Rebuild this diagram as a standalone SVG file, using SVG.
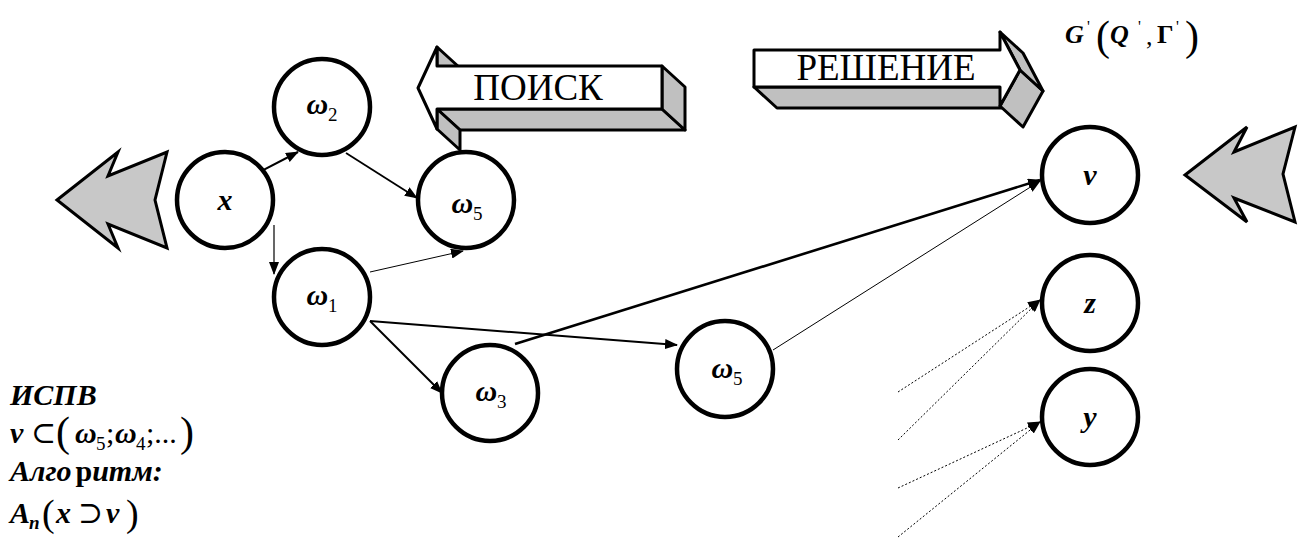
<svg xmlns="http://www.w3.org/2000/svg" width="1304" height="540" viewBox="0 0 1304 540">
<defs>
<style>
.node{fill:#fff;stroke:#000;stroke-width:4.5}
.lbl{font-size:30px;font-weight:bold;font-style:italic}
.sub{font-size:19px;font-weight:normal;font-style:normal}
.rm{font-weight:normal;font-style:normal}
.e{fill:none;stroke:#000}
.side{fill:#c0c0c0;stroke:#000;stroke-width:3;stroke-linejoin:round}
.front{fill:#fff;stroke:#000;stroke-width:3;stroke-linejoin:round}
.chev{fill:#c8c8c8;stroke:#000;stroke-width:3;stroke-linejoin:miter}
.big{font-size:37px}
</style>
<marker id="ah" markerUnits="userSpaceOnUse" markerWidth="13" markerHeight="10" refX="12" refY="5" orient="auto"><path d="M0,0 L13,5 L0,10 Z" fill="#000"/></marker>
</defs>
<rect width="1304" height="540" fill="#fff"/>
<g font-family="Liberation Serif, Times New Roman, DejaVu Serif, serif">

<g id="chevron-left"><polygon class="chev" points="57,200 118,152 108,176 167,152 155,200 167,248 108,224 118,248"/></g>
<g id="chevron-right"><polygon class="chev" points="1185,175 1247,127 1234,152 1295,127 1283,174 1295,222 1234,198 1247,222"/></g>

<g id="arrow-poisk">
<polygon class="side" points="437,109 662,109 685,130 460,130"/>
<polygon class="side" points="662,66 685,87 685,130 662,109"/>
<polygon class="side" points="437,109 437,129 460,150 460,130"/>
<polygon class="side" points="437,47 460,68 460,87 437,66"/>
<polygon class="front" points="418,88 437,47 437,66 662,66 662,109 437,109 437,129"/>
<text class="big" x="538" y="100" text-anchor="middle">ПОИСК</text>
</g>

<g id="arrow-reshenie">
<polygon class="side" points="754,87 1000,87 1023,108 777,108"/>
<polygon class="side" points="1000,106 1020,70 1043,91 1023,127"/>
<polygon class="side" points="1000,32 1020,70 1043,91 1023,53"/>
<polygon class="front" points="754,50 1000,50 1000,32 1020,70 1000,106 1000,87 754,87"/>
<text class="big" x="886" y="80" text-anchor="middle">РЕШЕНИЕ</text>
</g>

<g id="connectors">
<line class="e" x1="250" y1="177" x2="298" y2="152" stroke-width="2" marker-end="url(#ah)"/>
<line class="e" x1="346" y1="153" x2="417" y2="198" stroke-width="1.8" marker-end="url(#ah)"/>
<line class="e" x1="274" y1="225" x2="274" y2="274" stroke-width="1.2" marker-end="url(#ah)"/>
<line class="e" x1="370" y1="272" x2="463" y2="251" stroke-width="1" marker-end="url(#ah)"/>
<line class="e" x1="370" y1="321" x2="442" y2="393" stroke-width="2" marker-end="url(#ah)"/>
<line class="e" x1="370" y1="321" x2="677" y2="345" stroke-width="2" marker-end="url(#ah)"/>
<line class="e" x1="515" y1="344" x2="1040" y2="180" stroke-width="2.6" marker-end="url(#ah)"/>
<line class="e" x1="773" y1="350" x2="1040" y2="181" stroke-width="1" marker-end="url(#ah)"/>
<g stroke-dasharray="2,2">
<line class="e" x1="898" y1="392" x2="1040" y2="300" stroke-width="1" marker-end="url(#ah)"/>
<line class="e" x1="898" y1="440" x2="1040" y2="300" stroke-width="1" marker-end="url(#ah)"/>
<line class="e" x1="898" y1="488" x2="1040" y2="422" stroke-width="1" marker-end="url(#ah)"/>
<line class="e" x1="898" y1="537" x2="1040" y2="422" stroke-width="1" marker-end="url(#ah)"/>
</g>
</g>

<g id="node-x"><circle class="node" cx="225" cy="200" r="48"/><text class="lbl" x="225" y="210" text-anchor="middle">x</text></g>
<g id="node-w2"><circle class="node" cx="322" cy="107" r="48"/><text class="lbl" x="322" y="114" text-anchor="middle">ω<tspan class="sub" dy="7">2</tspan></text></g>
<g id="node-w5a"><circle class="node" cx="466" cy="200" r="48"/><text class="lbl" x="467" y="213" text-anchor="middle">ω<tspan class="sub" dy="7">5</tspan></text></g>
<g id="node-w1"><circle class="node" cx="322" cy="297" r="48"/><text class="lbl" x="322" y="305" text-anchor="middle">ω<tspan class="sub" dy="7">1</tspan></text></g>
<g id="node-w3"><circle class="node" cx="490" cy="393" r="48"/><text class="lbl" x="491" y="401" text-anchor="middle">ω<tspan class="sub" dy="7">3</tspan></text></g>
<g id="node-w5b"><circle class="node" cx="725" cy="369" r="48"/><text class="lbl" x="727" y="378" text-anchor="middle">ω<tspan class="sub" dy="7">5</tspan></text></g>
<g id="node-v"><circle class="node" cx="1090" cy="175" r="48"/><text class="lbl" x="1090" y="185" text-anchor="middle">ν</text></g>
<g id="node-z"><circle class="node" cx="1090" cy="303" r="48"/><text class="lbl" x="1090" y="313" text-anchor="middle">z</text></g>
<g id="node-y"><circle class="node" cx="1090" cy="417" r="48"/><text class="lbl" x="1090" y="427" text-anchor="middle">y</text></g>

<g id="graph-label">
<text class="lbl" x="1065" y="43" style="font-size:26px">G</text>
<text class="rm" x="1087" y="32" style="font-size:16px">'</text>
<text class="rm" x="1096" y="50" style="font-size:42px">(</text>
<text class="lbl" x="1110" y="43" style="font-size:26px">Q</text>
<text class="rm" x="1138" y="32" style="font-size:16px">'</text>
<text class="rm" x="1146" y="45" style="font-size:26px">,</text>
<text class="lbl" x="1157" y="43" style="font-size:26px;font-style:normal">Γ</text>
<text class="rm" x="1176" y="32" style="font-size:16px">'</text>
<text class="rm" x="1185" y="50" style="font-size:42px">)</text>
</g>

<g id="notes">
<text class="lbl" x="10" y="405">ИСПВ</text>
<text class="lbl" x="10" y="443">ν</text>
<text class="rm" x="31" y="443" style="font-size:30px">⊂</text>
<text class="rm" x="56" y="446" style="font-size:42px">(</text>
<text class="lbl" x="75" y="443">ω</text>
<text class="sub" x="96" y="450">5</text>
<text class="rm" x="106" y="443" style="font-size:30px">;</text>
<text class="lbl" x="115" y="443">ω</text>
<text class="sub" x="136" y="450">4</text>
<text class="rm" x="146" y="443" style="font-size:30px">;...</text>
<text class="rm" x="180" y="446" style="font-size:42px">)</text>
<text class="lbl" x="10" y="481">Алго<tspan style="font-style:normal" dx="4">р</tspan>итм:</text>
<text class="lbl" x="10" y="523">A</text>
<text class="lbl" x="29" y="529" style="font-size:19px">n</text>
<text class="rm" x="42" y="526" style="font-size:38px">(</text>
<text class="lbl" x="56" y="523">x</text>
<text class="rm" x="78" y="523" style="font-size:30px">⊃</text>
<text class="lbl" x="106" y="523">ν</text>
<text class="rm" x="126" y="526" style="font-size:38px">)</text>
</g>
</g>
</svg>
